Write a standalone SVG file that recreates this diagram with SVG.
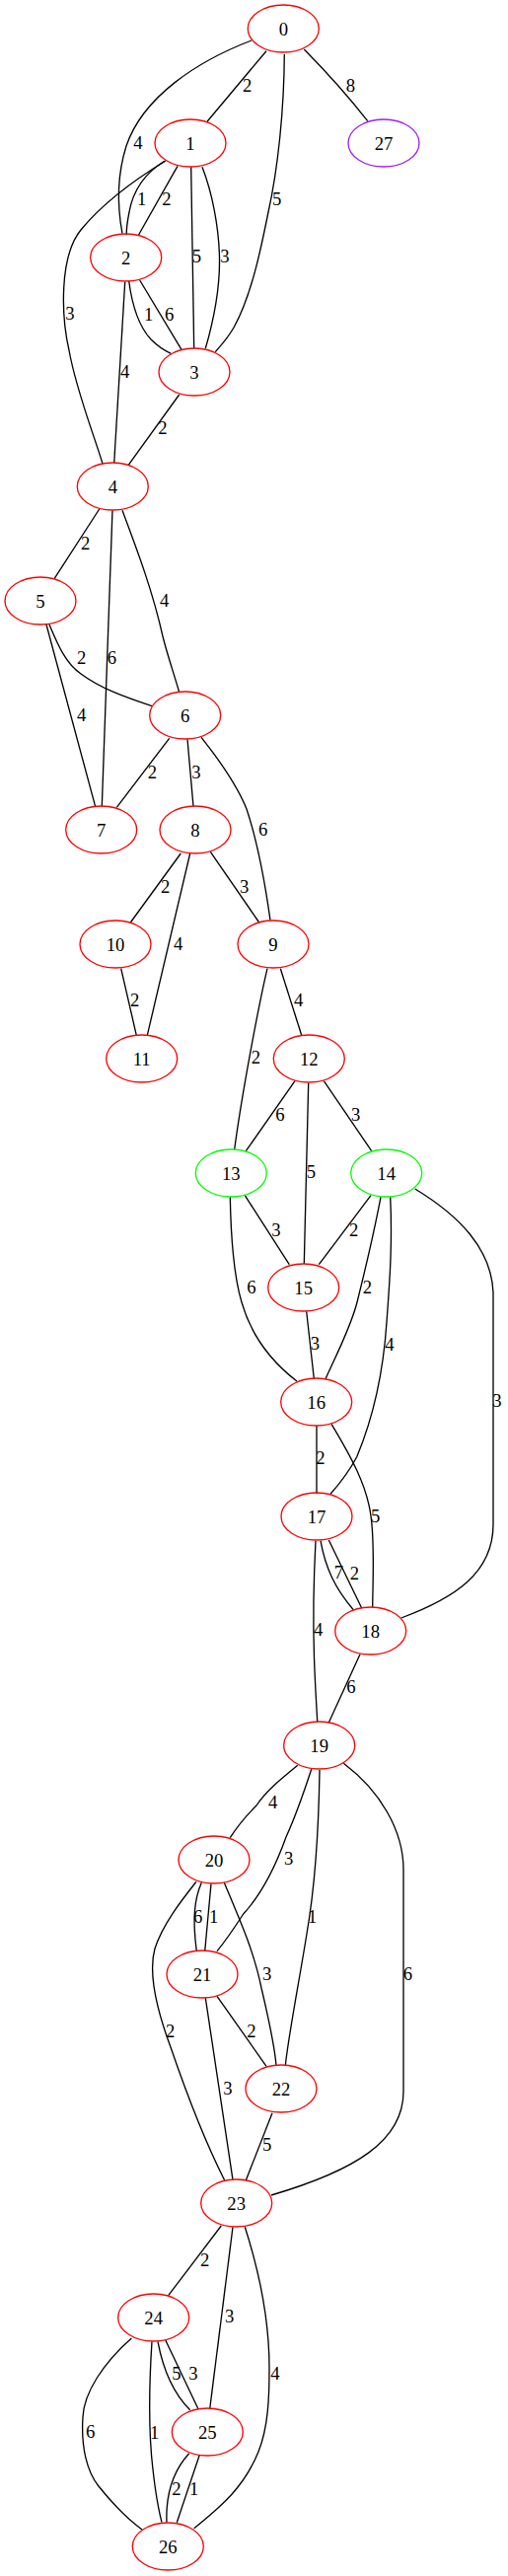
<svg xmlns="http://www.w3.org/2000/svg" width="515" height="2611" viewBox="0 0 515 2611">
<style>
.n ellipse{fill:none;stroke:#ff0000;stroke-width:1.33}
.g ellipse{stroke:#00ff00}
.p ellipse{stroke:#a020f0}
text{font-family:"Liberation Serif","Times New Roman",serif;font-size:18.67px;fill:#000;text-anchor:middle}
#edges path{fill:none;stroke:#000;stroke-width:1.33}
</style>
<rect width="515" height="2611" fill="#fff"/>
<g id="edges">
<path d="M270,51.7 L210,123.3"/><text x="250.7" y="93.3">2</text>
<path d="M308.3,50 C330,72 355,100 372.7,122.7"/><text x="355.3" y="93.3">8</text>
<path d="M255,41 C200,62 145,98 128,148 C118,180 119,210 124,236.7"/><text x="140" y="151">4</text>
<path d="M288.3,55 C288,110 282,170 272,215 C265,250 255,300 237,332 C230,344 224,350 218.3,356.7"/><text x="280.7" y="208.3">5</text>
<path d="M166.7,163.3 C148,175 135,192 131,215 C129,225 128,232 128.3,238.3"/><text x="143.7" y="208.3">1</text>
<path d="M180,168.3 L140,239"/><text x="169" y="208.3">2</text>
<path d="M193.7,169.3 L196.7,353.3"/><text x="199.3" y="266">5</text>
<path d="M205,169.3 C215,195 222,230 222.5,262 C223,295 215,330 208.3,353.3"/><text x="228" y="266">3</text>
<path d="M168,163 C140,180 105,205 82,233 C60,260 62,320 70,355 C77,395 95,440 104,470"/><text x="71" y="324.3">3</text>
<path d="M130.7,285 C134,310 140,330 153,344 C160,351 166,355 173.3,358.3"/><text x="150.7" y="325">1</text>
<path d="M141.7,284 L184,354.3"/><text x="171.7" y="325">6</text>
<path d="M126.7,285.7 L115.7,469.3"/><text x="126.7" y="383">4</text>
<path d="M181.7,400 L130,471.7"/><text x="165" y="440">2</text>
<path d="M100.7,516 L55,586.7"/><text x="86.7" y="556.7">2</text>
<path d="M114,517.3 L103.3,817.7"/><text x="113.3" y="672.7">6</text>
<path d="M124,517.3 C140,560 155,600 165,645 C170,665 177,685 181.7,701.7"/><text x="166.7" y="615">4</text>
<path d="M50,633 C58,652 66,672 82,683 C102,698 128,707 154,715.7"/><text x="82.7" y="672.7">2</text>
<path d="M46.7,632 L96.7,817.7"/><text x="82.7" y="731">4</text>
<path d="M171.7,748.3 L118.3,818.3"/><text x="154.3" y="788.7">2</text>
<path d="M190,749.3 L196,817.3"/><text x="199" y="788.7">3</text>
<path d="M204,747.3 C222,770 240,795 250,820 C260,850 268,890 274,932.7"/><text x="266.7" y="847">6</text>
<path d="M183.3,865 L132.3,935"/><text x="167.7" y="905.3">2</text>
<path d="M192.7,865 L149.3,1049.3"/><text x="180.7" y="962.7">4</text>
<path d="M213.3,863.3 L262.7,935"/><text x="247.7" y="905">3</text>
<path d="M122.7,981.7 L138.3,1049.3"/><text x="136.7" y="1020.3">2</text>
<path d="M271,981.7 C262,1020 245,1110 237.7,1165"/><text x="259.3" y="1078.3">2</text>
<path d="M284.3,981.7 L305.7,1049.3"/><text x="302.7" y="1020.3">4</text>
<path d="M299,1095.7 L249.3,1166.7"/><text x="284" y="1136">6</text>
<path d="M312.7,1097.7 L308.3,1281"/><text x="315.3" y="1194.3">5</text>
<path d="M328.3,1095.7 L376.7,1166.7"/><text x="360.7" y="1136">3</text>
<path d="M248.3,1211.7 L293.3,1281.7"/><text x="280" y="1252.7">3</text>
<path d="M233.3,1213.3 C234,1250 236,1290 245,1320 C255,1355 275,1380 301,1400"/><text x="255" y="1311">6</text>
<path d="M376,1211.7 L323.3,1281.7"/><text x="358.7" y="1253.3">2</text>
<path d="M386,1213.3 C378,1255 372,1280 362,1320 C355,1347 340,1375 330,1397.7"/><text x="372.3" y="1311">2</text>
<path d="M395.7,1213.3 C398,1260 395,1300 392,1340 C388,1400 375,1445 361.7,1476.7 C353,1493 345,1503 335,1514.3"/><text x="395" y="1368.7">4</text>
<path d="M420.7,1205 C465,1232 498,1265 500,1310 L500,1545 C500,1595 460,1620 406.7,1640"/><text x="504" y="1426">3</text>
<path d="M310.7,1329.3 L318.3,1397.3"/><text x="319.3" y="1367.7">3</text>
<path d="M321,1445 L321,1514.3"/><text x="325" y="1484.3">2</text>
<path d="M336,1443.3 C355,1475 372,1505 376,1536.7 C380,1565 378,1600 377.7,1629"/><text x="380.7" y="1542.7">5</text>
<path d="M325,1561.7 C330,1590 340,1610 358.3,1631.7"/><text x="343.3" y="1600.3">7</text>
<path d="M333.3,1561 L366.7,1630"/><text x="359.3" y="1601">2</text>
<path d="M320,1561.7 C318,1600 317.5,1650 318.5,1680 C319.5,1710 321,1730 321.7,1745"/><text x="322.7" y="1657.7">4</text>
<path d="M365,1676.7 L333.3,1746"/><text x="356" y="1716">6</text>
<path d="M301.7,1789.3 C285,1803 270,1815 260,1830 C250,1840 240,1852 233.3,1862.7"/><text x="276.7" y="1832.7">4</text>
<path d="M315.7,1793.3 C307,1820 300,1840 290,1862 C280,1890 265,1920 246.7,1940 C237,1955 228,1968 220,1977.7"/><text x="292.7" y="1890.3">3</text>
<path d="M324,1794 C323,1860 318,1920 311,1960 C303,2010 293,2060 289.3,2093.3"/><text x="316.7" y="1948.7">1</text>
<path d="M348.3,1787.3 C385,1815 409,1855 409,1895 L409,2120 C409,2170 360,2200 275,2225"/><text x="413.3" y="2007">6</text>
<path d="M204.3,1908.3 C197,1925 195,1945 199.3,1977.7"/><text x="200.7" y="1949.3">6</text>
<path d="M214,1909.3 L207.7,1977.7"/><text x="216.7" y="1949.3">1</text>
<path d="M199,1907.3 C185,1925 165,1950 157,1975 C150,2000 160,2040 173,2075 C185,2110 205,2165 227.7,2210"/><text x="172.7" y="2065">2</text>
<path d="M227.3,1908.3 C245,1950 258,1980 265,2015 C272,2045 278,2070 280,2093.3"/><text x="270.7" y="2007">3</text>
<path d="M220,2023.3 L270,2094.3"/><text x="255" y="2065">2</text>
<path d="M208.3,2025 L236,2209.3"/><text x="231" y="2122.7">3</text>
<path d="M276,2141.7 L249.3,2210"/><text x="270.7" y="2180">5</text>
<path d="M224.3,2256 L170.7,2326.7"/><text x="207.7" y="2296.7">2</text>
<path d="M236,2257.3 L212.7,2441.7"/><text x="232.7" y="2354.3">3</text>
<path d="M248.3,2257.3 C262,2300 273,2350 273,2400 C273,2430 272,2460 262,2485 C248,2520 225,2540 196.7,2562.7"/><text x="279" y="2412">4</text>
<path d="M160,2373.3 C165,2400 175,2425 192.7,2442.7"/><text x="179" y="2412">5</text>
<path d="M167.7,2371.7 L201,2441.7"/><text x="196" y="2412">3</text>
<path d="M133.3,2370 C105,2395 85,2425 84,2450 C82,2480 88,2505 100,2520 C112,2535 125,2550 144,2564"/><text x="91.7" y="2471">6</text>
<path d="M154,2373.3 C151,2420 151,2470 155,2503 C158,2530 161,2545 164,2556.7"/><text x="156.7" y="2471.7">1</text>
<path d="M191.7,2486.7 C175,2505 168,2530 169,2556.7"/><text x="179" y="2529.3">2</text>
<path d="M202.3,2488.3 L179.3,2556.7"/><text x="196.7" y="2529.3">1</text>
</g>
<g id="node0" class="n"><ellipse cx="287.3" cy="29" rx="36" ry="24"/><text x="287.3" y="35.5">0</text></g>
<g id="node1" class="n"><ellipse cx="193" cy="145" rx="36" ry="24"/><text x="193" y="151.5">1</text></g>
<g id="node27" class="n p"><ellipse cx="389" cy="145" rx="36" ry="24"/><text x="389" y="151.5">27</text></g>
<g id="node2" class="n"><ellipse cx="127.7" cy="261" rx="36" ry="24"/><text x="127.7" y="267.5">2</text></g>
<g id="node3" class="n"><ellipse cx="197" cy="377" rx="36" ry="24"/><text x="197" y="383.5">3</text></g>
<g id="node4" class="n"><ellipse cx="114.3" cy="493" rx="36" ry="24"/><text x="114.3" y="499.5">4</text></g>
<g id="node5" class="n"><ellipse cx="41" cy="609" rx="36" ry="24"/><text x="41" y="615.5">5</text></g>
<g id="node6" class="n"><ellipse cx="187.7" cy="725" rx="36" ry="24"/><text x="187.7" y="731.5">6</text></g>
<g id="node7" class="n"><ellipse cx="102.7" cy="841" rx="36" ry="24"/><text x="102.7" y="847.5">7</text></g>
<g id="node8" class="n"><ellipse cx="198" cy="841" rx="36" ry="24"/><text x="198" y="847.5">8</text></g>
<g id="node10" class="n"><ellipse cx="117" cy="957" rx="36" ry="24"/><text x="117" y="963.5">10</text></g>
<g id="node9" class="n"><ellipse cx="277" cy="957" rx="36" ry="24"/><text x="277" y="963.5">9</text></g>
<g id="node11" class="n"><ellipse cx="143.7" cy="1073" rx="36" ry="24"/><text x="143.7" y="1079.5">11</text></g>
<g id="node12" class="n"><ellipse cx="313.3" cy="1073" rx="36" ry="24"/><text x="313.3" y="1079.5">12</text></g>
<g id="node13" class="n g"><ellipse cx="234.3" cy="1189" rx="36" ry="24"/><text x="234.3" y="1195.5">13</text></g>
<g id="node14" class="n g"><ellipse cx="391.7" cy="1189" rx="36" ry="24"/><text x="391.7" y="1195.5">14</text></g>
<g id="node15" class="n"><ellipse cx="307.7" cy="1305" rx="36" ry="24"/><text x="307.7" y="1311.5">15</text></g>
<g id="node16" class="n"><ellipse cx="320.7" cy="1421" rx="36" ry="24"/><text x="320.7" y="1427.5">16</text></g>
<g id="node17" class="n"><ellipse cx="321" cy="1537" rx="36" ry="24"/><text x="321" y="1543.5">17</text></g>
<g id="node18" class="n"><ellipse cx="375.7" cy="1653" rx="36" ry="24"/><text x="375.7" y="1659.5">18</text></g>
<g id="node19" class="n"><ellipse cx="323.7" cy="1769" rx="36" ry="24"/><text x="323.7" y="1775.5">19</text></g>
<g id="node20" class="n"><ellipse cx="217" cy="1885" rx="36" ry="24"/><text x="217" y="1891.5">20</text></g>
<g id="node21" class="n"><ellipse cx="205" cy="2001" rx="36" ry="24"/><text x="205" y="2007.5">21</text></g>
<g id="node22" class="n"><ellipse cx="285" cy="2117" rx="36" ry="24"/><text x="285" y="2123.5">22</text></g>
<g id="node23" class="n"><ellipse cx="239.7" cy="2233" rx="36" ry="24"/><text x="239.7" y="2239.5">23</text></g>
<g id="node24" class="n"><ellipse cx="155.7" cy="2349" rx="36" ry="24"/><text x="155.7" y="2355.5">24</text></g>
<g id="node25" class="n"><ellipse cx="210.3" cy="2465" rx="36" ry="24"/><text x="210.3" y="2471.5">25</text></g>
<g id="node26" class="n"><ellipse cx="170.3" cy="2581" rx="36" ry="24"/><text x="170.3" y="2587.5">26</text></g>
</svg>
